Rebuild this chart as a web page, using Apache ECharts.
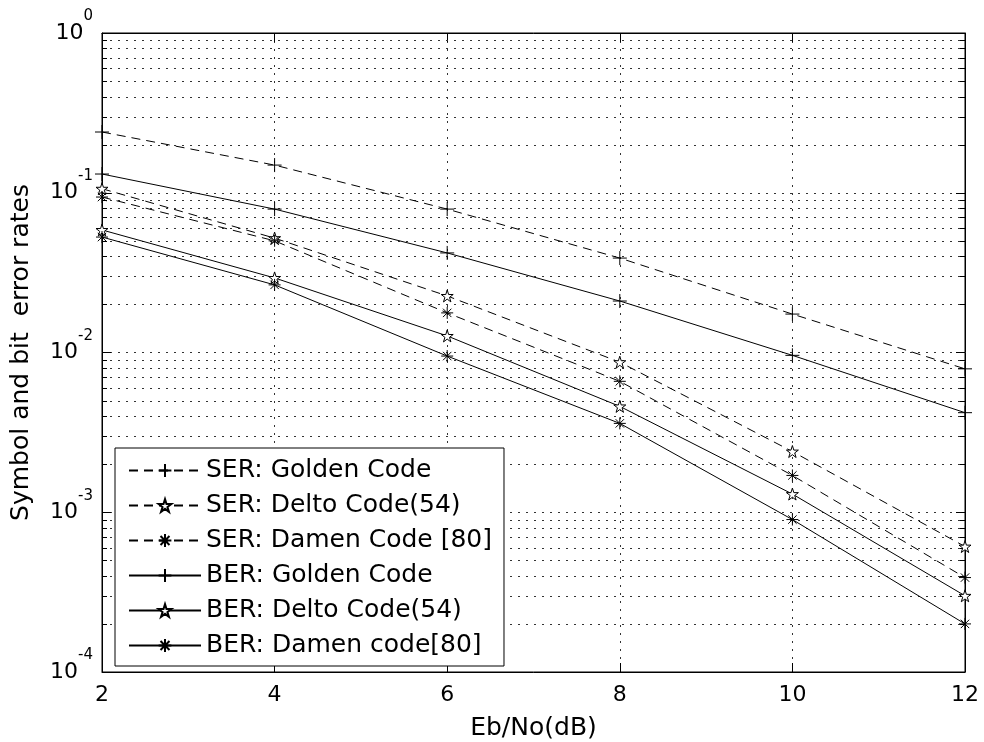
<!DOCTYPE html>
<html>
<head>
<meta charset="utf-8">
<script src="https://cdn.jsdelivr.net/npm/echarts@6/dist/echarts.min.js"></script>
<style>
  html, body { margin: 0; padding: 0; background: #fff; }
  #chart { width: 984px; height: 742px; }
</style>
</head>
<body>
<div id="chart"></div>
<script>
// Eb/No values (dB)
const ebno = [2, 4, 6, 8, 10, 12];

// error rates
const serGolden = [0.24, 0.149, 0.079, 0.039, 0.0174, 0.0079];
const serDelto = [0.106, 0.052, 0.0226, 0.0087, 0.0024, 0.00061];
const serDamen = [0.094, 0.050, 0.0177, 0.0066, 0.0017, 0.00039];
const berGolden = [0.131, 0.079, 0.042, 0.021, 0.0096, 0.0042];
const berDelto = [0.0585, 0.0293, 0.0127, 0.0046, 0.0013, 0.0003];
const berDamen = [0.0528, 0.0265, 0.0095, 0.0036, 0.0009, 0.0002];

const seriesNames = [
  'SER: Golden Code',
  'SER: Delto Code(54)',
  'SER: Damen Code [80]',
  'BER: Golden Code',
  'BER: Delto Code(54)',
  'BER: Damen code[80]'
];

// minor grid positions of the log axis (2..9 in each decade)
const decades = [1e-4, 1e-3, 1e-2, 1e-1];
const minorSteps = [2, 3, 4, 5, 6, 7, 8, 9];
const minorGrid = [];
decades.forEach(d => minorSteps.forEach(k => minorGrid.push([2, k * d])));

const FONT = 'DejaVu Sans';

// marker shapes
const plusPath = 'path://M0,5L10,5M5,0L5,10';
const starPath = 'path://M5,0L6.123,3.455L9.755,3.455L6.817,5.59L7.939,9.045L5,6.91L2.061,9.045L3.183,5.59L0.245,3.455L3.877,3.455Z';
const astPath = 'path://M5,0L5,10M0,5L10,5M1.5,1.5L8.5,8.5M1.5,8.5L8.5,1.5';

const dotted = { color: '#333', width: 1, type: [2, 6] };

function lineSeries(name, values, symbol, size, dashed) {
  return {
    name: name,
    type: 'line',
    data: ebno.map((x, i) => [x, values[i]]),
    symbol: symbol,
    symbolSize: size,
    showAllSymbol: true,
    lineStyle: { color: '#000', width: 1, type: dashed ? [9, 6] : 'solid' },
    itemStyle: { color: '#fff', borderColor: '#000', borderWidth: 1 },
    emphasis: { disabled: true },
    animation: false,
    z: 3
  };
}

const chart = echarts.init(document.getElementById('chart'));

const option = {
  backgroundColor: '#fff',
  animation: false,
  grid: {
    left: 102, top: 33, right: 19, bottom: 70,
    outerBoundsMode: 'none', containLabel: false,
    show: true, borderColor: '#000', borderWidth: 1
  },
  legend: {
    data: seriesNames,
    orient: 'vertical',
    left: 115,
    top: 448,
    itemWidth: 72,
    itemHeight: 16,
    itemGap: 10,
    padding: [10, 12, 8, 13],
    backgroundColor: '#fff',
    borderColor: '#000',
    borderWidth: 1,
    borderRadius: 0,
    selectedMode: false,
    textStyle: { fontFamily: FONT, fontSize: 25, color: '#000' }
  },
  xAxis: [
    {
      type: 'value',
      min: 2,
      max: 12,
      interval: 2,
      name: 'Eb/No(dB)',
      nameLocation: 'middle',
      nameGap: 44,
      nameMoveOverlap: false,
      nameTextStyle: { fontFamily: FONT, fontSize: 25, color: '#000' },
      axisLine: { lineStyle: { color: '#000', width: 1 } },
      axisTick: { inside: true, length: 9, lineStyle: { color: '#000' } },
      axisLabel: { fontFamily: FONT, fontSize: 22, color: '#000', margin: 12 },
      splitLine: { show: true, lineStyle: dotted }
    },
    {
      type: 'value',
      position: 'top',
      min: 2,
      max: 12,
      interval: 2,
      axisLine: { lineStyle: { color: '#000', width: 1 } },
      axisTick: { inside: true, length: 9, lineStyle: { color: '#000' } },
      axisLabel: { show: false },
      splitLine: { show: false }
    }
  ],
  yAxis: [
    {
      type: 'log',
      logBase: 10,
      min: 1e-4,
      max: 1,
      name: 'Symbol and bit  error rates',
      nameLocation: 'middle',
      nameGap: 68,
      nameMoveOverlap: false,
      nameRotate: 90,
      nameTextStyle: { fontFamily: FONT, fontSize: 25, color: '#000' },
      axisLine: { lineStyle: { color: '#000', width: 1 } },
      axisTick: { inside: true, length: 9, lineStyle: { color: '#000' } },
      axisLabel: {
        margin: 9,
        formatter: v => '{b|10}{s|' + Math.round(Math.log10(v)) + '}',
        rich: {
          b: { fontFamily: FONT, fontSize: 22, color: '#000', lineHeight: 48, verticalAlign: 'middle' },
          s: { fontFamily: FONT, fontSize: 15, color: '#000', lineHeight: 15, verticalAlign: 'top' }
        }
      },
      splitLine: { show: true, lineStyle: dotted }
    },
    {
      type: 'log',
      logBase: 10,
      min: 1e-4,
      max: 1,
      position: 'right',
      axisLine: { lineStyle: { color: '#000', width: 1 } },
      axisTick: { inside: true, length: 9, lineStyle: { color: '#000' } },
      axisLabel: { show: false },
      splitLine: { show: false }
    }
  ],
  series: [
    {
      type: 'custom',
      name: 'minor',
      silent: true,
      z: 1,
      data: minorGrid,
      encode: { x: 0, y: 1 },
      renderItem: function (params, api) {
        const p = api.coord([api.value(0), api.value(1)]);
        const cs = params.coordSys;
        const y = Math.round(p[1]) + 0.5;
        return {
          type: 'group',
          children: [
            { type: 'line', shape: { x1: cs.x, y1: y, x2: cs.x + cs.width, y2: y }, style: { stroke: '#333', lineWidth: 1, lineDash: [2, 6] } },
            { type: 'line', shape: { x1: cs.x, y1: y, x2: cs.x + 5, y2: y }, style: { stroke: '#000', lineWidth: 1 } },
            { type: 'line', shape: { x1: cs.x + cs.width - 5, y1: y, x2: cs.x + cs.width, y2: y }, style: { stroke: '#000', lineWidth: 1 } }
          ]
        };
      }
    },
    lineSeries(seriesNames[0], serGolden, plusPath, 14, true),
    lineSeries(seriesNames[1], serDelto, starPath, 12, true),
    lineSeries(seriesNames[2], serDamen, astPath, 12, true),
    lineSeries(seriesNames[3], berGolden, plusPath, 14, false),
    lineSeries(seriesNames[4], berDelto, starPath, 12, false),
    lineSeries(seriesNames[5], berDamen, astPath, 12, false)
  ]
};

chart.setOption(option);
</script>
</body>
</html>
